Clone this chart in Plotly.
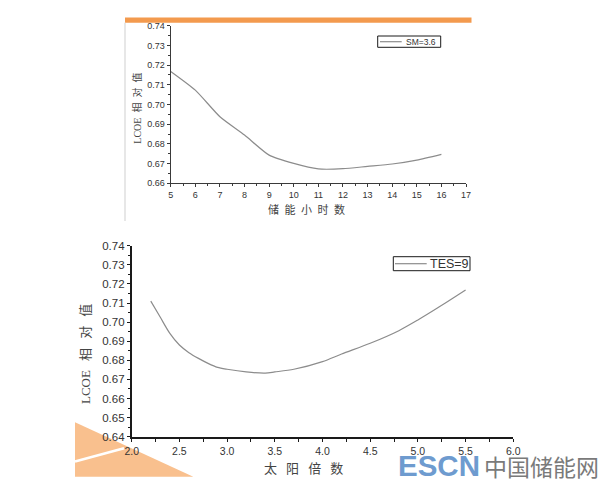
import plotly.graph_objects as go

# page body has an 8px margin; figure is sized to fill the rest of the 607x485 window
OFF = 8
W, H = 607 - OFF, 485 - OFF

# ---- data ----
storage_hours = [5, 6, 7, 8, 9, 10, 11, 12, 13, 14, 15, 16]
lcoe_sm36 = [0.7168, 0.7073, 0.6938, 0.6845, 0.6743, 0.6701, 0.6673, 0.6674, 0.6686, 0.6698, 0.6718, 0.6747]

solar_multiple = [2.2, 2.3, 2.4, 2.5, 2.6, 2.7, 2.8, 2.9, 3.0, 3.2, 3.4, 3.5, 3.7, 4.0, 4.2, 4.5, 4.8, 5.0, 5.2, 5.5]
lcoe_tes9 = [0.711, 0.7025, 0.6941, 0.688, 0.684, 0.681, 0.6784, 0.6763, 0.6753, 0.6739, 0.6733, 0.6739,
             0.6753, 0.6793, 0.6833, 0.6889, 0.6955, 0.7011, 0.7072, 0.7168]

top_series_name = "SM=3.6"
bottom_series_name = "TES=9"
top_xtitle = "储\u2002能\u2002小\u2002时\u2002数"
bottom_xtitle = "太\u2002\u2009阳\u2002\u2009倍\u2002\u2009数"
top_ytitle = "LCOE\u2002相\u2002对\u2002值"
bottom_ytitle = "LCOE\u2002\u2009相\u2002\u2009对\u2002\u2009值"


def px(x):
    return (x - OFF) / W


def py(y):
    return 1 - (y - OFF) / H


LINE_COL = "#8c8c8c"
AX_COL = "#1a1a1a"
TXT_COL = "#333333"
SANS = "Liberation Sans, Arial, sans-serif"
SERIF = "Liberation Serif, Noto Sans CJK SC, serif"

fig = go.Figure()
fig.add_trace(go.Scatter(x=storage_hours, y=lcoe_sm36, mode="lines", name=top_series_name,
                         line=dict(color=LINE_COL, width=1.2, shape="spline", smoothing=0.6),
                         xaxis="x", yaxis="y", showlegend=False))
fig.add_trace(go.Scatter(x=solar_multiple, y=lcoe_tes9, mode="lines", name=bottom_series_name,
                         line=dict(color=LINE_COL, width=1.2, shape="spline", smoothing=0.8),
                         xaxis="x2", yaxis="y2", showlegend=False))

common = dict(showgrid=False, zeroline=False, showline=True, ticks="outside", tickwidth=1, mirror=False)
top_ax = dict(linecolor="#3a3a3a", linewidth=1, tickcolor="#3a3a3a", **common)
bot_ax = dict(linecolor=AX_COL, linewidth=1.6, tickcolor=AX_COL, **common)

fig.update_layout(
    width=W, height=H,
    margin=dict(l=0, r=0, t=0, b=0, pad=0, autoexpand=False),
    paper_bgcolor="white", plot_bgcolor="white",
    xaxis=dict(domain=[px(170.7), px(466)], range=[5, 17], dtick=1, tick0=5, anchor="y",
               ticklen=3, tickfont=dict(family=SANS, size=9, color=TXT_COL),
               minor=dict(dtick=0.5, ticklen=2, ticks="outside", tickcolor="#3a3a3a"), **top_ax),
    yaxis=dict(domain=[py(183.3), py(25.7)], range=[0.66, 0.74], dtick=0.01, tickformat=".2f", anchor="x",
               ticklen=3, tickfont=dict(family=SANS, size=9, color=TXT_COL),
               minor=dict(dtick=0.005, ticklen=2, ticks="outside", tickcolor="#3a3a3a"), **top_ax),
    xaxis2=dict(domain=[px(131.7), px(513.3)], range=[2, 6], dtick=0.5, tick0=2, tickformat=".1f", anchor="y2",
                ticklen=3, ticklabelstandoff=1, tickfont=dict(family=SANS, size=10.5, color=TXT_COL),
                minor=dict(dtick=0.25, ticklen=3, ticks="outside", tickcolor=AX_COL), **bot_ax),
    yaxis2=dict(domain=[py(436.7), py(245.7)], range=[0.64, 0.74], dtick=0.01, tickformat=".2f", anchor="x2",
                ticklen=3, tickfont=dict(family=SANS, size=11.5, color=TXT_COL),
                minor=dict(dtick=0.005, ticklen=2, ticks="outside", tickcolor=AX_COL), **bot_ax),
    showlegend=False,
)

shapes = [
    # orange header bar
    dict(type="rect", xref="paper", yref="paper", x0=px(125), x1=px(471.5), y0=py(22.7), y1=py(17.5),
         fillcolor="#F39A4E", line=dict(width=0), layer="above"),
    # faint frame line on left of top image
    dict(type="line", xref="paper", yref="paper", x0=px(125), x1=px(125), y0=py(22.7), y1=py(221),
         line=dict(color="#cfcfcf", width=1)),
    # orange triangle bottom-left
    dict(type="path", xref="paper", yref="paper",
         path=f"M {px(75)} {py(422.3)} L {px(75)} {py(476.7)} L {px(193.3)} {py(476.7)} Z",
         fillcolor="#F9C08E", line=dict(width=0), layer="below"),
    dict(type="line", xref="paper", yref="paper", x0=px(75), x1=px(124), y0=py(461.5), y1=py(448.3),
         line=dict(color="white", width=2.5), layer="below"),
    # legend boxes
    dict(type="rect", xref="paper", yref="paper", x0=px(377.7), x1=px(440.7), y0=py(47.3), y1=py(36),
         fillcolor="white", line=dict(color=AX_COL, width=1)),
    dict(type="line", xref="paper", yref="paper", x0=px(380), x1=px(401.7), y0=py(41.7), y1=py(41.7),
         line=dict(color=LINE_COL, width=1.2)),
    dict(type="rect", xref="paper", yref="paper", x0=px(393.3), x1=px(470), y0=py(270.7), y1=py(256.7),
         fillcolor="white", line=dict(color=AX_COL, width=1)),
    dict(type="line", xref="paper", yref="paper", x0=px(395), x1=px(426.7), y0=py(263.7), y1=py(263.7),
         line=dict(color=LINE_COL, width=1.2)),
]


def ann(text, x, y, size, family, color, xanchor="center", angle=0):
    return dict(text=text, x=px(x), y=py(y), xref="paper", yref="paper", xanchor=xanchor,
                yanchor="middle", textangle=angle, showarrow=False,
                font=dict(family=family, size=size, color=color))


annotations = [
    ann(top_series_name, 403.5, 41.8, 8.5, SANS, TXT_COL, xanchor="left"),
    ann(bottom_series_name, 428, 263.8, 12.5, SANS, TXT_COL, xanchor="left"),
    ann(top_ytitle, 136.7, 108, 10, SERIF, "#444444", angle=-90),
    ann(top_xtitle, 306.7, 209.5, 11, SERIF, "#444444"),
    ann(bottom_ytitle, 85, 354, 13, SERIF, "#444444", angle=-90),
    ann(bottom_xtitle, 303.5, 468, 13, SERIF, "#444444"),
    ann("<b>ESCN</b>", 396, 465.5, 29.5, SANS, "#6E9BCF", xanchor="left"),
    ann("中国储能网", 481.5, 466, 23, "Noto Sans CJK SC", "#7a7a7a", xanchor="left"),
]

fig.update_layout(shapes=shapes, annotations=annotations)
fig.write_html("out.html")
